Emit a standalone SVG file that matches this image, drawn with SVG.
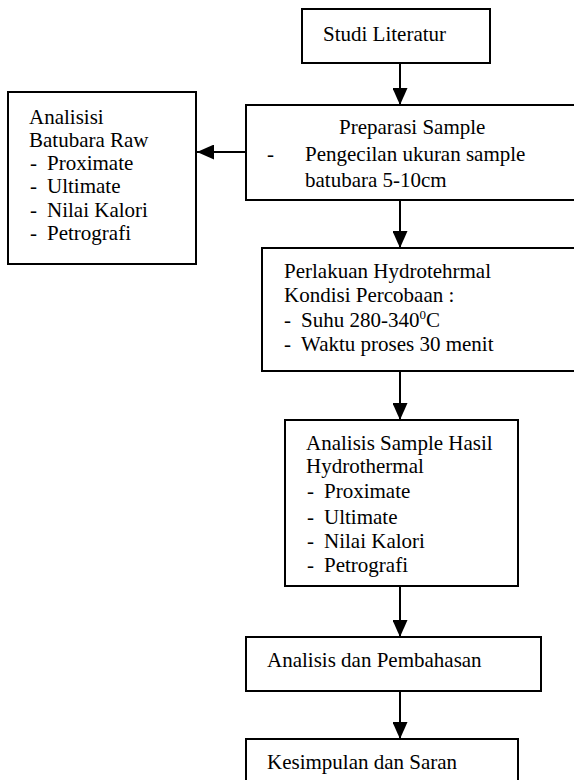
<svg xmlns="http://www.w3.org/2000/svg" width="574" height="780" viewBox="0 0 574 780">
<style>
.box{fill:#fff;stroke:#000;stroke-width:2}
.t{font-family:"Liberation Serif","Times New Roman",serif;font-size:21px;fill:#000}
.conn line{stroke:#000;stroke-width:2;fill:none}
</style>
<defs>
<marker id="ah" markerUnits="userSpaceOnUse" markerWidth="17" markerHeight="15" refX="17" refY="7.5" orient="auto" viewBox="0 0 17 15">
<path d="M0,0 L17,7.5 L0,15 Z" fill="#000"/>
</marker>
</defs>
<rect x="0" y="0" width="574" height="780" fill="#fff"/>

<g id="studi-literatur">
<rect class="box" x="302" y="9" width="188" height="54"/>
<text class="t" x="323" y="41">Studi Literatur</text>
</g>

<g id="preparasi-sample">
<rect class="box" x="246" y="105" width="340" height="95"/>
<text class="t" x="339" y="134">Preparasi Sample</text>
<text class="t" y="161"><tspan x="267">-</tspan><tspan x="305">Pengecilan ukuran sample</tspan></text>
<text class="t" x="305" y="187">batubara 5-10cm</text>
</g>

<g id="analisisi-batubara-raw">
<rect class="box" x="8" y="92" width="188" height="172"/>
<text class="t" x="29" y="124">Analisisi</text>
<text class="t" x="29" y="147">Batubara Raw</text>
<text class="t" y="170"><tspan x="30">-</tspan><tspan x="47">Proximate</tspan></text>
<text class="t" y="193"><tspan x="30">-</tspan><tspan x="47">Ultimate</tspan></text>
<text class="t" y="217"><tspan x="30">-</tspan><tspan x="47">Nilai Kalori</tspan></text>
<text class="t" y="240"><tspan x="30">-</tspan><tspan x="47">Petrografi</tspan></text>
</g>

<g id="perlakuan-hydrothermal">
<rect class="box" x="262" y="248" width="330" height="123"/>
<text class="t" x="284" y="278">Perlakuan Hydrotehrmal</text>
<text class="t" x="284" y="302">Kondisi Percobaan :</text>
<text class="t" y="327"><tspan x="284">-</tspan><tspan x="301">Suhu 280-340</tspan><tspan font-size="13" dy="-8">0</tspan><tspan dy="8">C</tspan></text>
<text class="t" y="351"><tspan x="284">-</tspan><tspan x="301">Waktu proses 30 menit</tspan></text>
</g>

<g id="analisis-sample-hasil">
<rect class="box" x="285" y="420" width="233" height="166"/>
<text class="t" x="306" y="450">Analisis Sample Hasil</text>
<text class="t" x="306" y="473">Hydrothermal</text>
<text class="t" y="498"><tspan x="307">-</tspan><tspan x="324">Proximate</tspan></text>
<text class="t" y="524"><tspan x="307">-</tspan><tspan x="324">Ultimate</tspan></text>
<text class="t" y="548"><tspan x="307">-</tspan><tspan x="324">Nilai Kalori</tspan></text>
<text class="t" y="572"><tspan x="307">-</tspan><tspan x="324">Petrografi</tspan></text>
</g>

<g id="analisis-pembahasan">
<rect class="box" x="246" y="637" width="295" height="54"/>
<text class="t" x="267" y="667">Analisis dan Pembahasan</text>
</g>

<g id="kesimpulan-saran">
<rect class="box" x="246" y="739" width="272" height="60"/>
<text class="t" x="267" y="769">Kesimpulan dan Saran</text>
</g>

<g id="connectors" class="conn">
<line x1="400" y1="63" x2="400" y2="105" marker-end="url(#ah)"/>
<line x1="246" y1="152" x2="197" y2="152" marker-end="url(#ah)"/>
<line x1="400" y1="200" x2="400" y2="248" marker-end="url(#ah)"/>
<line x1="400" y1="371" x2="400" y2="420" marker-end="url(#ah)"/>
<line x1="400" y1="586" x2="400" y2="637" marker-end="url(#ah)"/>
<line x1="400" y1="691" x2="400" y2="739" marker-end="url(#ah)"/>
</g>
</svg>
